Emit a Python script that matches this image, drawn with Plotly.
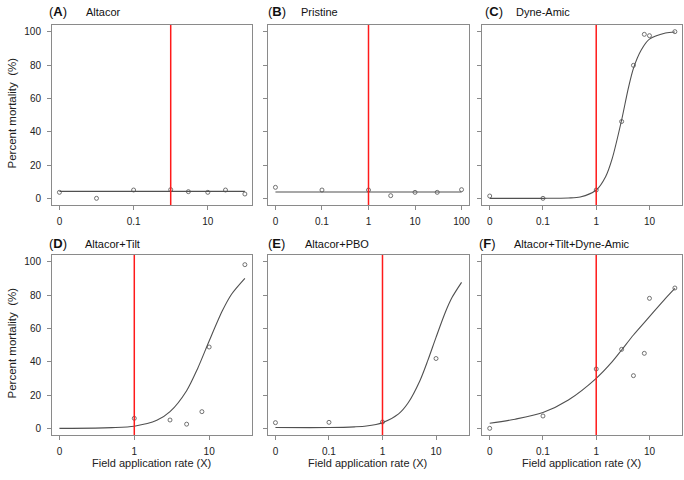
import math
import plotly.graph_objects as go

# ---------------- data ----------------
panel_letters = ["A", "B", "C", "D", "E", "F"]
panel_names = ["Altacor", "Pristine", "Dyne-Amic", "Altacor+Tilt",
               "Altacor+PBO", "Altacor+Tilt+Dyne-Amic"]

# observed field application rates (0 = untreated control) and % mortality
doses_A = [0, 0.01, 0.1, 1, 3, 10, 30, 100]
mort_A = [3.6, 0.0, 5.0, 5.2, 4.0, 3.6, 5.0, 2.6]
doses_B = [0, 0.1, 1, 3, 10, 30, 100]
mort_B = [6.6, 5.0, 5.0, 1.6, 3.6, 3.6, 5.2]
doses_C = [0, 0.1, 1, 3, 5, 8, 10, 30]
mort_C = [1.4, 0.0, 5.0, 46.1, 79.8, 98.4, 97.6, 100.0]
doses_D = [1, 3, 5, 8, 10, 30]
mort_D = [6.0, 5.0, 2.5, 10.0, 48.8, 98.2]
doses_E = [0, 0.1, 1, 10]
mort_E = [3.4, 3.6, 3.8, 41.9]
doses_F = [0, 0.1, 1, 3, 5, 8, 10, 30]
mort_F = [0.0, 7.4, 35.6, 47.4, 31.6, 45.0, 78.0, 84.2]

# fitted dose-response curves
curve_dose_A = [0, 100]
curve_A = [4.2, 4.2]
curve_dose_B = [0, 100]
curve_B = [3.8, 3.8]
curve_dose_C = [0, 0.1, 0.3, 0.5, 1, 1.5, 2, 3, 4, 5, 7, 10, 20, 30]
curve_C = [0.0, 0.0, 0.2, 0.8, 5.0, 13.0, 24.0, 47.0, 66.0, 78.0, 89.0, 95.5, 99.2, 99.8]
curve_dose_D = [0, 0.3, 0.5, 1, 2, 3, 5, 7, 10, 15, 20, 30]
curve_D = [0.0, 0.1, 0.4, 1.3, 4.8, 10.0, 22.6, 35.8, 52.4, 70.5, 80.6, 90.0]
curve_dose_E = [0, 0.1, 0.3, 0.5, 1, 2, 3, 5, 7, 10, 15, 20, 30]
curve_E = [0.5, 0.5, 0.9, 1.4, 3.4, 8.7, 15.2, 28.6, 40.6, 54.6, 69.8, 78.6, 87.6]
curve_dose_F = [0, 0.03, 0.1, 0.3, 1, 2, 3, 5, 10, 20, 30]
curve_F = [3.0, 5.5, 9.5, 17.0, 30.0, 40.0, 47.0, 56.0, 67.0, 78.0, 84.0]

# where the "0" (control) rate is drawn on the log axis
zero_pos = [0.001, 0.01, 0.01, 0.1, 0.01, 0.01]

# x tick values and labels
tick_vals = [[0.001, 0.1, 10], [0.01, 0.1, 1, 10, 100], [0.01, 0.1, 1, 10],
             [0.1, 1, 10], [0.01, 0.1, 1, 10], [0.01, 0.1, 1, 10]]
tick_text = [["0", "0.1", "10"], ["0", "0.1", "1", "10", "100"], ["0", "0.1", "1", "10"],
             ["0", "1", "10"], ["0", "0.1", "1", "10"], ["0", "0.1", "1", "10"]]
y_ticks = [0, 20, 40, 60, 80, 100]

ref_rate = 1  # field application rate (red line)

obs_doses = [doses_A, doses_B, doses_C, doses_D, doses_E, doses_F]
obs_mort = [mort_A, mort_B, mort_C, mort_D, mort_E, mort_F]
cur_doses = [curve_dose_A, curve_dose_B, curve_dose_C, curve_dose_D, curve_dose_E, curve_dose_F]
cur_vals = [curve_A, curve_B, curve_C, curve_D, curve_E, curve_F]

# ---------------- layout geometry (pixels) ----------------
W, H = 684, 480
col_px = [(52, 252.3), (268, 469), (482.3, 682.3)]
row_px = [(25, 205), (255, 435)]
letter_x = [47.3, 266, 483.3, 47, 265.7, 476.7]
name_x = [84.3, 299.3, 514, 83.3, 302.7, 511.7]
title_y = [11, 243]

FONT = "Liberation Sans, Arial, Helvetica, sans-serif"
FRAME = "#8a8a8a"
CURVE = "#505050"

fig = go.Figure()
layout = dict(
    width=W, height=H, margin=dict(l=0, r=0, t=0, b=0),
    paper_bgcolor="white", plot_bgcolor="white", showlegend=False,
    font=dict(family=FONT, color="#222222"),
)
annotations = []
shapes = []


def mapx(d, z):
    return [z if v == 0 else v for v in d]


for i in range(6):
    r, c = divmod(i, 3)
    n = "" if i == 0 else str(i + 1)
    xa, ya = "x" + n, "y" + n
    z = zero_pos[i]
    xo = mapx(obs_doses[i], z)
    xc = mapx(cur_doses[i], z)
    allx = xo + xc
    lo, hi = math.log10(min(allx)), math.log10(max(allx))
    pad = 0.04 * (hi - lo)

    fig.add_trace(go.Scatter(
        x=xc, y=cur_vals[i], mode="lines", xaxis=xa, yaxis=ya,
        line=dict(color=CURVE, width=1.1, shape="spline", smoothing=0.8),
        hoverinfo="skip"))
    fig.add_trace(go.Scatter(
        x=xo, y=obs_mort[i], mode="markers", xaxis=xa, yaxis=ya,
        marker=dict(symbol="circle-open", size=4, color=CURVE,
                    line=dict(width=0.8, color=CURVE))))

    x0, x1 = col_px[c]
    t0, t1 = row_px[r]
    layout["xaxis" + n] = dict(
        domain=[x0 / W, x1 / W], anchor=ya, type="log",
        range=[lo - pad, hi + pad], tickmode="array",
        tickvals=tick_vals[i], ticktext=tick_text[i],
        showline=True, mirror=True, linecolor=FRAME, linewidth=1,
        ticks="outside", ticklen=4, tickcolor=FRAME, tickwidth=1,
        showgrid=False, zeroline=False, ticklabelstandoff=3,
        tickfont=dict(size=10, family=FONT, color="#222222"),
    )
    layout["yaxis" + n] = dict(
        domain=[1 - t1 / H, 1 - t0 / H], anchor=xa, range=[-4, 104],
        tickmode="array", tickvals=y_ticks,
        showticklabels=(c == 0),
        showline=True, mirror=True, linecolor=FRAME, linewidth=1,
        ticks="outside", ticklen=4, tickcolor=FRAME, tickwidth=1,
        showgrid=False, zeroline=False, ticklabelstandoff=4,
        tickfont=dict(size=10, family=FONT, color="#222222"),
    )

    shapes.append(dict(type="line", xref=xa, yref=ya + " domain",
                       x0=ref_rate, x1=ref_rate, y0=0, y1=1,
                       line=dict(color="#ff1a1a", width=1.5)))

    annotations.append(dict(
        text="(<b>" + panel_letters[i] + "</b>)", xref="paper", yref="paper",
        x=letter_x[i] / W, y=1 - title_y[r] / H, xanchor="left", yanchor="middle",
        showarrow=False, font=dict(size=13, family=FONT, color="#111111")))
    annotations.append(dict(
        text=panel_names[i], xref="paper", yref="paper",
        x=name_x[i] / W, y=1 - (title_y[r] + 1) / H, xanchor="left", yanchor="middle",
        showarrow=False, font=dict(size=11, family=FONT, color="#111111")))

    if c == 0:
        annotations.append(dict(
            text="Percent mortality  (%)", xref="paper", yref="paper",
            x=11.5 / W, y=1 - ((t0 + t1) / 2 - 2) / H, textangle=-90,
            xanchor="center", yanchor="middle", showarrow=False,
            font=dict(size=11.5, family=FONT, color="#222222")))
    if r == 1:
        annotations.append(dict(
            text="Field application rate (X)", xref="paper", yref="paper",
            x=((x0 + x1) / 2 - 1) / W, y=1 - 463 / H,
            xanchor="center", yanchor="middle", showarrow=False,
            font=dict(size=11, family=FONT, color="#222222")))

layout["annotations"] = annotations
layout["shapes"] = shapes
fig.update_layout(**layout)
fig.write_html("out.html", config={"displayModeBar": False},
               post_script="document.body.style.margin='0';document.body.style.overflow='hidden';")
